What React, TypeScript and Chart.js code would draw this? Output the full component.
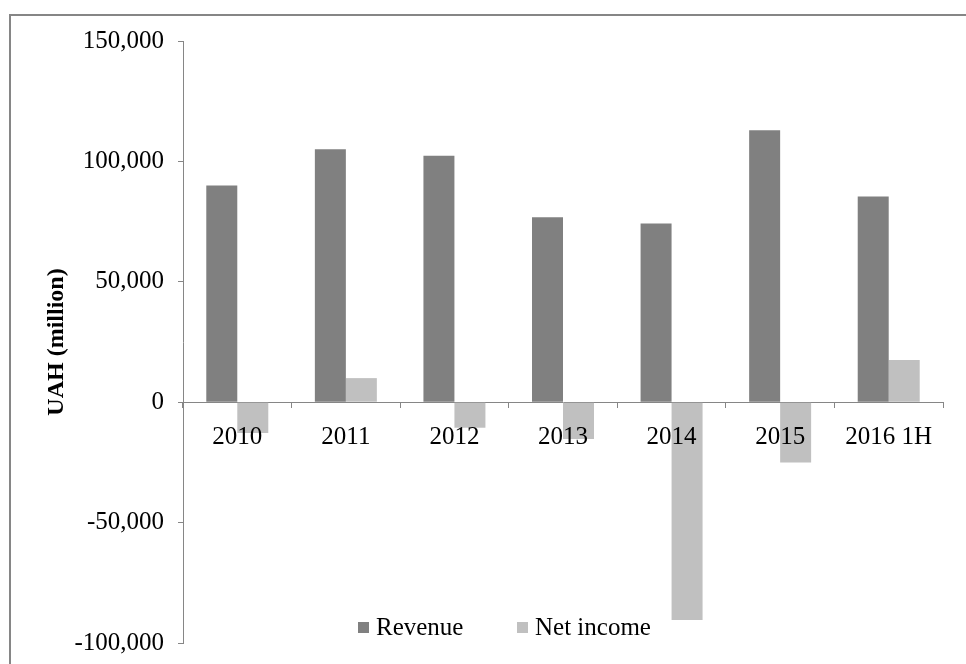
import React, { useEffect, useRef } from "react";
import { Chart, registerables } from "chart.js";

Chart.register(...registerables);

const categories = ["2010", "2011", "2012", "2013", "2014", "2015", "2016 1H"];
const revenue = [90000, 105000, 102300, 76800, 74200, 112900, 85400];
const netIncome = [-12800, 10000, -10600, -15300, -90500, -25000, 17500];
const yTicks = [-100000, -50000, 0, 50000, 100000, 150000];

const FONT = "'Liberation Serif', 'Times New Roman', serif";
const AXIS_GREY = "#868686";

const framePlugin = {
  id: "frame",
  afterDraw(chart: any) {
    const ctx = chart.ctx;
    ctx.save();
    ctx.strokeStyle = AXIS_GREY;
    ctx.lineWidth = 2;
    ctx.beginPath();
    ctx.moveTo(10, 700);
    ctx.lineTo(10, 15);
    ctx.lineTo(1000, 15);
    ctx.stroke();

    // legend inside plot area
    const items = chart.data.datasets.map((d: any) => ({ label: d.label, color: d.backgroundColor }));
    const starts = [358, 517];
    items.forEach((it: any, i: number) => {
      const x = starts[i];
      ctx.fillStyle = it.color;
      ctx.fillRect(x, 622, 11, 11);
      ctx.font = `25px ${FONT}`;
      ctx.textBaseline = "alphabetic";
      ctx.textAlign = "left";
      ctx.fillStyle = "#000";
      ctx.fillText(it.label, x + 18, 635);
    });
    ctx.restore();
  },
};

export default function App() {
  const ref = useRef<HTMLCanvasElement | null>(null);
  useEffect(() => {
    document.body.style.margin = "0";
    if (!ref.current) return;
    const chart = new Chart(ref.current, {
      type: "bar",
      data: {
        labels: categories,
        datasets: [
          { label: "Revenue", data: revenue, backgroundColor: "#808080", barPercentage: 1, categoryPercentage: 0.571 },
          { label: "Net income", data: netIncome, backgroundColor: "#c0c0c0", barPercentage: 1, categoryPercentage: 0.571 },
        ],
      },
      options: {
        animation: false,
        responsive: false,
        layout: { padding: { left: 38, right: 23, top: 41, bottom: 13 } },
        plugins: { legend: { display: false }, tooltip: { enabled: false } },
        scales: {
          x: {
            position: { y: 0 } as any,
            grid: { drawOnChartArea: false, drawTicks: true, tickLength: 5, color: AXIS_GREY, offset: true },
            border: { color: AXIS_GREY, width: 1 },
            ticks: { color: "#000", font: { family: FONT, size: 25 }, padding: 15, maxRotation: 0, autoSkip: false, z: 1 },
          },
          y: {
            min: -100000,
            max: 150000,
            afterBuildTicks(scale: any) {
              scale.ticks = yTicks.map((v) => ({ value: v }));
            },
            afterFit(scale: any) {
              scale.width = 183 - 38;
            },
            grid: { drawOnChartArea: false, drawTicks: true, tickLength: 5, color: AXIS_GREY },
            border: { color: AXIS_GREY, width: 1 },
            ticks: {
              color: "#000",
              font: { family: FONT, size: 25 },
              padding: 14,
              callback: (v: any) => Number(v).toLocaleString("en-US"),
            },
            title: {
              display: true,
              text: "UAH (million)",
              color: "#000",
              font: { family: FONT, size: 24, weight: "bold" },
              padding: { top: 4, bottom: 4 },
            },
          },
        },
      },
      plugins: [framePlugin],
    });
    return () => chart.destroy();
  }, []);
  return (
    <div style={{ position: "absolute", left: 0, top: 0, width: 966, height: 664, overflow: "hidden", background: "#fff" }}>
      <canvas ref={ref} width={966} height={672} />
    </div>
  );
}
